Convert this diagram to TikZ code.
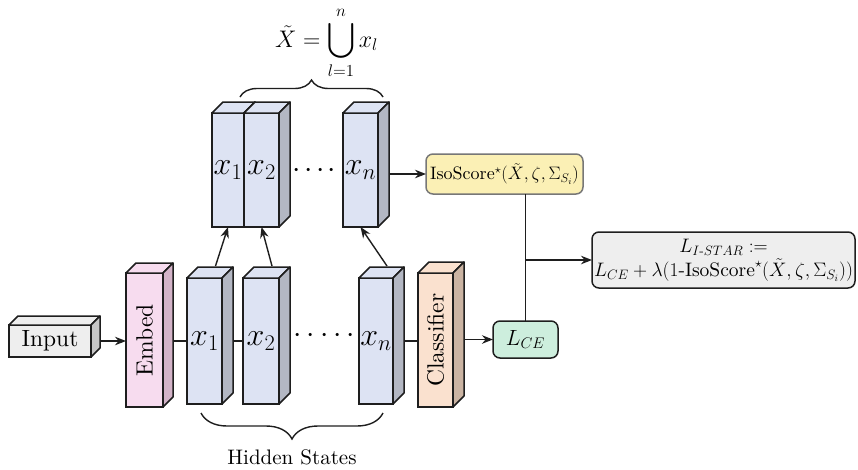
\RequirePackage{fix-cm}
\documentclass[tikz,border=0pt]{standalone}
\usepackage{amsmath}
\usepackage{fontspec}
\setmainfont{lmroman10-regular.otf}[ItalicFont=lmroman10-italic.otf, BoldFont=lmroman10-bold.otf]
\usetikzlibrary{decorations.pathreplacing,arrows.meta,calc}
\definecolor{lc}{HTML}{1E1E1E}
\definecolor{bluef}{HTML}{DDE3F3}
\definecolor{blues}{HTML}{B3B7C3}
\definecolor{pinkf}{HTML}{F7DCEF}
\definecolor{pinks}{HTML}{D3B3C8}
\definecolor{peachf}{HTML}{FAE1CF}
\definecolor{peachs}{HTML}{CBB4A3}
\definecolor{grayf}{HTML}{EEEEEE}
\definecolor{grays}{HTML}{C6C6C6}
\definecolor{isof}{HTML}{FBF0B5}
\definecolor{isod}{HTML}{777777}
\definecolor{lcef}{HTML}{CDEEDD}
\newcommand{\cubefaces}[4]{%
  \filldraw[draw=lc,line width=1.5pt,fill=#3,line join=round]
    (#1.north west) -- ([shift={(#2,-#2)}]#1.north west) -- ([shift={(#2,-#2)}]#1.north east) -- (#1.north east) -- cycle;
  \filldraw[draw=lc,line width=1.5pt,fill=#4,line join=round]
    (#1.north east) -- ([shift={(#2,-#2)}]#1.north east) -- ([shift={(#2,-#2)}]#1.south east) -- (#1.south east) -- cycle;
}
\begin{document}
\begin{tikzpicture}[x=1pt,y=-1pt,
  every node/.style={font=\fontsize{23.5}{28}\selectfont},
  cubefront/.style={draw=lc, line width=1.5pt, inner sep=0pt, outer sep=0pt},
  lbl/.style={font=\fontsize{32}{36}\selectfont},
  dotlbl/.style={font=\fontsize{30}{34}\selectfont},
  conn/.style={draw=lc, line width=1.4pt},
  arr/.style={conn, -{Stealth[length=11pt,width=8.5pt]}},
  rbox/.style={draw=lc, line width=1.5pt, rounded corners=7pt, inner sep=2pt, outer sep=0pt}]
\useasboundingbox (0,0) rectangle (858,469);

% input
\node[cubefront, fill=grayf, minimum width=82pt, minimum height=32pt] (input) at (50,341) {Input};
\cubefaces{input}{9}{grayf}{grays}
% embed
\node[cubefront, fill=pinkf, minimum width=37pt, minimum height=134pt] (embed) at (144.5,340) {};
\cubefaces{embed}{10}{pinkf}{pinks}
\node[rotate=90] (embedlbl) at (embed.center) {Embed};
% lower hidden states
\node[cubefront, fill=bluef, minimum width=35pt, minimum height=126pt, lbl] (lx1) at (204.5,341) {$x_1$};
\cubefaces{lx1}{11}{bluef}{blues}
\node[cubefront, fill=bluef, minimum width=36pt, minimum height=126pt, lbl] (lx2) at (261,341) {$x_2$};
\cubefaces{lx2}{11}{bluef}{blues}
\node[dotlbl] (ldots) at (324.5,336) {${\cdot}\mkern3mu{\cdot}\mkern3mu{\cdot}\mkern3mu{\cdot}\mkern3mu{\cdot}$};
\node[cubefront, fill=bluef, minimum width=34pt, minimum height=126pt, lbl] (lxn) at (376,341) {$x_n$};
\cubefaces{lxn}{11}{bluef}{blues}
% classifier
\node[cubefront, fill=peachf, minimum width=35pt, minimum height=134pt] (cls) at (435.5,340) {};
\cubefaces{cls}{11}{peachf}{peachs}
\node[rotate=90] (clslbl) at (cls.center) {Classifier};
% upper hidden states
\node[cubefront, fill=bluef, minimum width=32pt, minimum height=114pt, lbl] (ux1) at (228,170) {$x_1$};
\cubefaces{ux1}{11}{bluef}{blues}
\node[cubefront, fill=bluef, minimum width=35pt, minimum height=114pt, lbl] (ux2) at (261.5,170) {$x_2$};
\cubefaces{ux2}{11}{bluef}{blues}
\node[dotlbl] (udots) at (314.5,171) {${\cdot}\mkern2mu{\cdot}\mkern2mu{\cdot}\mkern2mu{\cdot}$};
\node[cubefront, fill=bluef, minimum width=35pt, minimum height=114pt, lbl] (uxn) at (360.5,170) {$x_n$};
\cubefaces{uxn}{11}{bluef}{blues}

% loss boxes
\node[rbox, draw=isod, fill=isof, minimum width=157pt, minimum height=40pt, font=\fontsize{18}{22}\selectfont] (iso) at (504.5,174)
  {IsoScore$^\star(\tilde{X},\zeta,\Sigma_{S_i})$};
\node[rbox, fill=lcef, minimum width=65pt, minimum height=37pt, font=\fontsize{22}{26}\selectfont] (lce) at (525.5,339.5) {$L_{CE}$};
\node[rbox, fill=grayf, minimum width=263pt, minimum height=56pt, align=center, font=\fontsize{19.5}{24}\selectfont] (res) at (723.5,260)
  {$L_{I\text{-}STAR}:=$\\$L_{CE}+\lambda(1\text{-IsoScore}^\star(\tilde{X},\zeta,\Sigma_{S_i}))$};

% connectors
\draw[arr] ([xshift=9pt]input.east) -- (input.east -| embed.west);
\draw[conn] ([xshift=10pt]embed.east |- lx1.west) -- (lx1.west);
\draw[conn] ([xshift=11pt]lx1.east) -- (lx2.west);
\draw[conn] ([xshift=11pt]lxn.east) -- (lxn.east -| cls.west);
\draw[arr] ([xshift=11pt]cls.east |- lce.west) -- (lce.west);
\draw[arr] ([shift={(11,-12)}]lx1.north) -- (ux1.south);
\draw[arr] ([shift={(11,-12)}]lx2.north) -- (ux2.south);
\draw[arr] ([shift={(11,-12)}]lxn.north) -- (uxn.south);
\draw[arr] ([xshift=11pt]uxn.east |- iso.west) -- (iso.west);
\draw[conn] (iso.south -| lce.north) -- (lce.north);
\draw[arr] (lce.north |- res.west) -- (res.west);

% braces
\coordinate (tbl) at (240,97);
\coordinate (tbr) at (383,97);
\draw[conn, decorate, decoration={brace, amplitude=17pt}] (tbl) -- (tbr);
\node[font=\fontsize{24}{28}\selectfont] (union) at (326.5,43) {$\displaystyle \tilde{X} = \bigcup_{l=1}^{n} x_l$};
\coordinate (bbl) at (201,413);
\coordinate (bbr) at (383,413);
\draw[conn, decorate, decoration={brace, amplitude=26pt}] (bbr) -- (bbl);
\node[font=\fontsize{21}{25}\selectfont] (hs) at (292,457) {Hidden States};
\end{tikzpicture}
\end{document}
